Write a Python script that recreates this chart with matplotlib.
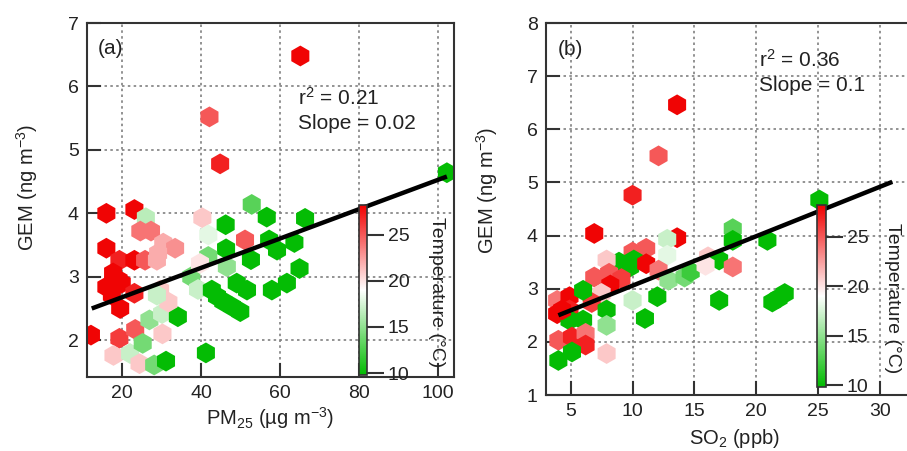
import numpy as np
import matplotlib
matplotlib.use("Agg")
import matplotlib.pyplot as plt
from matplotlib.colors import LinearSegmentedColormap, Normalize
from matplotlib.cm import ScalarMappable

plt.rcParams['font.family'] = ['Liberation Sans', 'DejaVu Sans']
plt.rcParams['mathtext.default'] = 'regular'

# ---------------- Panel (a) data: PM2.5 vs GEM coloured by temperature ----------------
pm25 = [65.1, 42.1, 44.8, 102.2, 16.0, 23.1, 26.0, 24.6, 27.3, 16.0, 19.3, 23.1, 25.8,
        30.4, 33.4, 29.1, 28.8, 17.7, 16.0, 19.9, 19.1, 19.5, 23.1, 17.4, 12.1, 19.3,
        23.3, 17.8, 22.0, 24.4, 25.2, 28.1, 31.1, 26.9, 30.1, 30.2, 34.1, 29.6, 31.7,
        28.8, 37.5, 39.2, 40.3, 41.8, 46.2, 46.3, 51.1, 52.8, 56.6, 66.3, 57.2, 59.2,
        63.6, 52.6, 46.5, 41.8, 39.7, 64.9, 61.7, 57.9, 49.0, 51.6, 42.7, 44.0, 45.6,
        47.8, 49.9, 41.2]
gem_a = [6.48, 5.52, 4.78, 4.64, 4.00, 4.06, 3.93, 3.72, 3.72, 3.45, 3.26, 3.26, 3.26,
         3.53, 3.45, 3.37, 3.26, 3.06, 2.84, 2.90, 2.95, 2.50, 2.74, 2.71, 2.08, 2.03,
         2.17, 1.76, 1.79, 1.63, 1.95, 1.61, 1.67, 2.32, 2.42, 2.10, 2.37, 2.79, 2.60,
         2.71, 3.00, 2.80, 3.93, 3.66, 3.82, 3.44, 3.58, 4.14, 3.94, 3.92, 3.58, 3.42,
         3.54, 3.27, 3.16, 3.32, 3.21, 3.13, 2.90, 2.79, 2.90, 2.79, 2.79, 2.69, 2.61,
         2.53, 2.45, 1.80]
temp_a = [28, 25, 27, 10, 28, 28, 16.5, 24, 24, 28, 27, 28, 25,
          22, 23, 22, 22, 28, 28, 28, 28, 28, 27, 28, 28, 26,
          25, 21, 17, 21, 14, 14, 10, 15, 17, 21, 10, 21, 21,
          17, 14, 17, 21, 18, 10, 10, 25, 13, 10, 10, 10, 10,
          10, 10, 15, 14, 20, 10, 10, 10, 10, 10, 10, 10, 10,
          10, 10, 10]
fit_a_intercept = 2.215
fit_a_slope = 0.02314
fit_a_x = [12.3, 102.2]

# ---------------- Panel (b) data: SO2 vs GEM coloured by temperature ----------------
so2 = [13.6, 12.1, 10.0, 25.1, 6.9, 13.6, 12.8, 18.1, 18.1, 20.9, 10.0, 11.1, 12.8,
       8.9, 9.8, 10.1, 7.9, 11.1, 12.1, 6.9, 8.1, 9.1, 8.2, 7.5, 6.7, 12.9, 14.2,
       14.7, 12.0, 10.0, 11.0, 7.9, 7.9, 7.9, 16.1, 17.0, 18.1, 17.0, 21.3, 22.3,
       21.8, 3.9, 3.9, 4.9, 4.9, 6.0, 6.0, 4.9, 4.0, 5.1, 6.2, 6.2, 4.0, 5.1, 4.3,
       15.9]
gem_b = [6.46, 5.50, 4.76, 4.67, 4.04, 3.96, 3.93, 4.13, 3.91, 3.91, 3.69, 3.76, 3.63,
         3.50, 3.41, 3.54, 3.54, 3.47, 3.35, 3.22, 3.29, 3.19, 3.07, 2.91, 2.74, 3.16,
         3.22, 3.32, 2.85, 2.78, 2.44, 2.60, 2.31, 1.78, 3.60, 3.54, 3.41, 2.78, 2.75,
         2.91, 2.82, 2.78, 2.53, 2.85, 2.60, 2.97, 2.41, 2.41, 2.03, 2.09, 2.16, 1.94,
         1.65, 1.81, 2.60, 3.44]
temp_b = [28, 25, 27, 10, 28, 28, 17, 13, 10, 10, 25, 25, 18,
          10, 10, 10, 21, 28, 24, 25, 25, 26, 28, 21, 26, 15, 14,
          12, 10, 17, 10, 10, 15, 21, 21, 10, 24, 10, 10, 10,
          10, 24, 28, 28, 27, 10, 10, 10, 25, 27, 24, 27, 10, 10, 28,
          20]
fit_b_intercept = 2.128
fit_b_slope = 0.093
fit_b_x = [4.0, 31.0]

temp_min, temp_max = 9.8, 28.2
cmap = LinearSegmentedColormap.from_list(
    "gwr", [(0.0, "#00bb00"), (0.5, "#ffffff"), (1.0, "#f00000")])
norm = Normalize(vmin=temp_min, vmax=temp_max)

TXT = "#222222"
SP = "#333333"

fig = plt.figure(figsize=(9.07, 4.51), dpi=100)
W, H = 907.0, 451.0


def frac(l, t, r, b):
    return [l / W, 1 - b / H, (r - l) / W, (b - t) / H]


def style_axes(ax):
    for s in ax.spines.values():
        s.set_color(SP)
        s.set_linewidth(1.5)
    ax.tick_params(direction='in', length=10, width=1.5, color=SP,
                   labelsize=14, labelcolor=TXT, pad=6,
                   top=False, right=False)
    ax.grid(True, color="#808080", linestyle=(0, (1.5, 2.0)), linewidth=1.2)
    ax.set_axisbelow(True)


def add_cbar(ax_pos, label, label_xy):
    cax = fig.add_axes(ax_pos)
    sm = ScalarMappable(norm=norm, cmap=cmap)
    cb = fig.colorbar(sm, cax=cax, orientation='vertical')
    cb.set_ticks([10, 15, 20, 25])
    cb.outline.set_edgecolor(SP)
    cb.outline.set_linewidth(1.2)
    cax.tick_params(direction='out', length=12, width=1.5, color=SP,
                    labelsize=14, labelcolor=TXT, pad=3)
    fig.text(label_xy[0] / W, 1 - label_xy[1] / H, label, rotation=270,
             ha='center', va='center', fontsize=14, color=TXT)
    return cb


# ---------------- Panel (a) ----------------
axa = fig.add_axes(frac(87, 23, 454, 377))
style_axes(axa)
axa.scatter(pm25, gem_a, c=temp_a, cmap=cmap, norm=norm, marker='h', s=225,
            linewidths=0, zorder=2)
xa = np.array(fit_a_x)
axa.plot(xa, fit_a_intercept + fit_a_slope * xa, color='black', lw=3.2,
         solid_capstyle='butt', zorder=3)
axa.set_xlim(11.1, 104.0)
axa.set_ylim(1.42, 7.0)
axa.set_xticks([20, 40, 60, 80, 100])
axa.set_yticks([2, 3, 4, 5, 6, 7])
axa.set_xlabel("PM$_{25}$ (µg m$^{-3}$)", fontsize=14.5, color=TXT, labelpad=2)
axa.set_ylabel("GEM (ng m$^{-3}$)", fontsize=14.5, color=TXT)
axa.yaxis.set_label_coords(-0.128, 0.534)
axa.text(0.03, 0.955, "(a)", transform=axa.transAxes, fontsize=15, color=TXT,
         ha='left', va='top')
axa.text(64.6, 5.82, "r$^{2}$ = 0.21", fontsize=15, color=TXT, ha='left', va='center')
axa.text(64.6, 5.42, "Slope = 0.02", fontsize=15, color=TXT, ha='left', va='center')
add_cbar(frac(359, 205, 367, 375), "Temperature (°C)", (436, 292))

# ---------------- Panel (b) ----------------
axb = fig.add_axes(frac(546, 23, 922, 395))
style_axes(axb)
axb.scatter(so2, gem_b, c=temp_b, cmap=cmap, norm=norm, marker='h', s=225,
            linewidths=0, zorder=2)
xb = np.array(fit_b_x)
axb.plot(xb, fit_b_intercept + fit_b_slope * xb, color='black', lw=3.2,
         solid_capstyle='butt', zorder=3)
axb.set_xlim(3.0, 33.4)
axb.set_ylim(1.0, 8.0)
axb.set_xticks([5, 10, 15, 20, 25, 30])
axb.set_yticks([1, 2, 3, 4, 5, 6, 7, 8])
axb.set_xlabel("SO$_{2}$ (ppb)", fontsize=14.5, color=TXT, labelpad=5)
axb.set_ylabel("GEM (ng m$^{-3}$)", fontsize=14.5, color=TXT)
axb.yaxis.set_label_coords(-0.122, 0.551)
axb.text(0.03, 0.955, "(b)", transform=axb.transAxes, fontsize=15, color=TXT,
         ha='left', va='top')
axb.text(20.2, 7.3, "r$^{2}$ = 0.36", fontsize=15, color=TXT, ha='left', va='center')
axb.text(20.2, 6.83, "Slope = 0.1", fontsize=15, color=TXT, ha='left', va='center')
add_cbar(frac(817, 205, 826, 387), "Temperature (°C)", (893, 298))

fig.savefig("out.png", dpi=100)
